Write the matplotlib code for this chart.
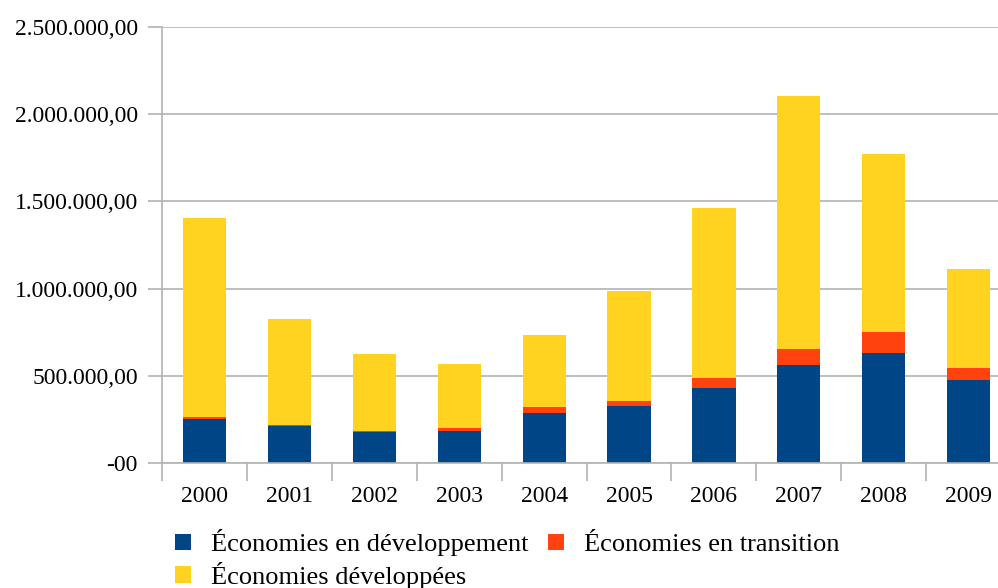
import matplotlib.pyplot as plt
import numpy as np
from matplotlib.ticker import FuncFormatter

years = ['2000', '2001', '2002', '2003', '2004', '2005', '2006', '2007', '2008', '2009']
developing = [254000, 214000, 181000, 185000, 288000, 328000, 431000, 563000, 632000, 477000]
transition = [11000, 6000, 6000, 17000, 34000, 29000, 58000, 92000, 120000, 69000]
developed = [1140000, 607000, 439000, 367000, 413000, 630000, 973000, 1450000, 1019000, 567000]

labels = ['Économies en développement', 'Économies en transition', 'Économies développées']
colors = ['#004586', '#ff420e', '#ffd320']
grid_col = '#b3b3b3'

plt.rcParams['font.family'] = ['Liberation Serif', 'DejaVu Serif']

fig = plt.figure(figsize=(9.98, 5.88), dpi=100)
ax = fig.add_axes([0.1626, 0.2121, 1.013 - 0.1626, 0.9546 - 0.2121])

x = np.arange(len(years))
dev = np.array(developing)
tra = np.array(transition)
dvd = np.array(developed)
w = 0.51
b1 = ax.bar(x, dev, w, color=colors[0], zorder=3)
b2 = ax.bar(x, tra, w, bottom=dev, color=colors[1], zorder=3)
b3 = ax.bar(x, dvd, w, bottom=dev + tra, color=colors[2], zorder=3)

ax.set_xlim(-0.5, len(years) - 0.5)
ax.set_ylim(0, 2500000)
ax.set_yticks(np.arange(0, 2500001, 500000))


def euro_fmt(v, pos):
    if v == 0:
        return '-00'
    s = f'{v:,.2f}'
    return s.replace(',', ' ').replace('.', ',').replace(' ', '.')


ax.yaxis.set_major_formatter(FuncFormatter(euro_fmt))
ax.yaxis.grid(True, color=grid_col, linewidth=1.2, zorder=0)

ax.set_xticks(x)
ax.set_xticklabels(years)
ax.set_xticks(np.arange(-0.5, len(years), 1.0), minor=True)
ax.tick_params(axis='x', which='major', length=0, pad=16, labelsize=17)
ax.tick_params(axis='x', which='minor', length=13, width=1.2, color=grid_col)
ax.tick_params(axis='y', length=10, width=1.2, color=grid_col, pad=7.5, labelsize=17)

for s in ['top', 'right']:
    ax.spines[s].set_visible(False)
for s in ['left', 'bottom']:
    ax.spines[s].set_color(grid_col)
    ax.spines[s].set_linewidth(1.2)
    ax.spines[s].set_zorder(4)

# order so that rows read A B / C with ncol=2
leg = fig.legend([b1, b3, b2], [labels[0], labels[2], labels[1]], ncol=2,
                 loc='upper left', bbox_to_anchor=(0.1754, 0.100), frameon=False,
                 fontsize=19, handlelength=0.6, handleheight=0.6,
                 handletextpad=0.78, columnspacing=0.72, labelspacing=0.22,
                 borderpad=0, borderaxespad=0)

fig.savefig('out.png', dpi=100)
